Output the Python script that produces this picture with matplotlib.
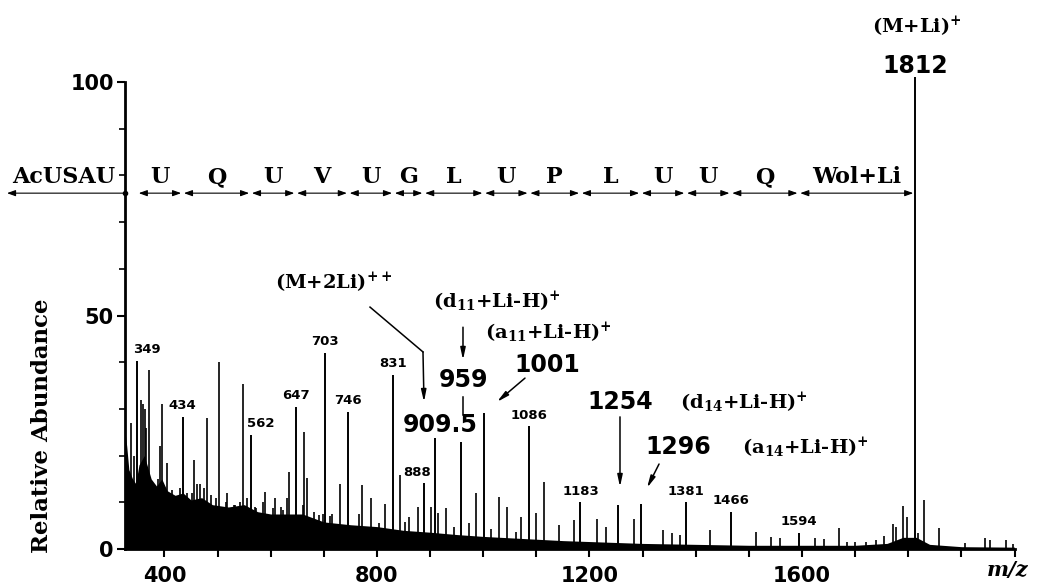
import matplotlib.pyplot as plt
from matplotlib.ticker import FixedLocator, MultipleLocator

plt.rcParams['mathtext.fontset'] = 'custom'
plt.rcParams['mathtext.rm'] = 'DejaVu Serif:bold'
plt.rcParams['mathtext.it'] = 'DejaVu Serif:bold:italic'
plt.rcParams['mathtext.bf'] = 'DejaVu Serif:bold'

# peaks labelled with small numbers (m/z, relative abundance)
label_mz = [349, 434, 562, 647, 703, 746, 831, 888, 1086, 1183, 1381, 1466, 1594]
label_int = [40.3, 28.3, 24.4, 30.4, 42.0, 29.4, 37.3, 14.1, 26.3, 10.0, 10.0, 7.9, 3.4]

# peaks with the big annotations
big_mz = [909.5, 959, 1001, 1254, 1296, 1812]
big_int = [23.8, 22.9, 29.1, 9.4, 9.6, 101.0]

# unlabelled peaks
peak_mz = [337, 342, 356, 359.5, 363, 366, 370.5, 387, 392, 396, 405, 414, 420, 429,
           442, 452, 455, 462, 466, 474, 480, 488, 497, 503, 516, 518, 531, 532.5, 542,
           547, 556, 570, 572, 586, 590, 605, 608, 619, 623, 630, 634, 660, 663, 669,
           681, 691, 698, 711, 716, 731, 767, 772, 789, 804.5, 815, 844, 852, 860, 877,
           900.8, 914.5, 930, 945, 974, 987, 1015, 1029, 1045, 1061, 1070.6, 1100,
           1114.5, 1142, 1171, 1214, 1230.5, 1284, 1339, 1355, 1370, 1427, 1513, 1541,
           1559, 1625, 1641, 1670, 1684, 1700, 1720, 1740, 1755, 1771, 1777, 1790,
           1797.5, 1819, 1830, 1857, 1906, 1945, 1953, 1984, 1998]
peak_int = [27, 20, 32, 31, 30, 26, 38.3, 15, 22, 31, 18.5, 12.6, 10.5, 13,
            12, 12, 19, 14, 14, 13, 28, 11.6, 11, 40, 10, 12, 9.5, 9.4, 10,
            35.3, 11, 9, 8.8, 10, 12.2, 8.8, 10.9, 9, 8.4, 11, 16.5, 9.5, 25, 15.2,
            8, 7.3, 7.5, 7, 7.5, 14, 7.6, 13.7, 11, 5.5, 9.7, 15.8, 5.8, 6.8, 9,
            9, 7.7, 8.8, 4.7, 5.6, 12, 4.3, 11.1, 9, 3.6, 6.9, 7.7,
            14.3, 5.1, 6.2, 6.4, 4.7, 6.4, 4, 3.4, 3, 4, 3.6, 2.6,
            2.4, 2.4, 2.1, 4.5, 1.5, 1.5, 1.4, 2, 2.8, 5.4, 4.7, 9.2,
            6.9, 3.5, 10.5, 4.5, 1.3, 2.4, 2, 2, 1]

# the dense "grass" under the peaks
floor_mz = [326, 329, 333, 340, 346, 352, 362, 375, 385, 395, 405, 420, 435, 450, 470,
            490, 520, 550, 575, 600, 640, 660, 700, 750, 800, 850, 900, 950, 1000,
            1050, 1100, 1150, 1200, 1300, 1400, 1500, 1600, 1700, 1760, 1790, 1815,
            1840, 1900, 2000]
floor_int = [25, 22, 17, 15, 14, 18, 20, 15, 13.5, 15, 12.5, 11.5, 12, 10.5, 11,
             9.5, 9, 9.5, 8, 7.5, 7.5, 7.5, 5.8, 5.2, 4.8, 4.0, 3.6, 3.1, 2.7,
             2.4, 2.1, 1.8, 1.6, 1.2, 1.0, 0.8, 0.8, 0.8, 1.2, 2.5, 2.5,
             1.0, 0.5, 0.4]

# sequence along the top
seq_names = ['AcUSAU', 'U', 'Q', 'U', 'V', 'U', 'G', 'L', 'U', 'P', 'L', 'U', 'U', 'Q', 'Wol+Li']
seq_bounds = [349, 434, 562, 647, 746, 831, 888, 1001, 1086, 1183, 1296, 1381, 1466, 1594, 1812]

serif = 'DejaVu Serif'
wide = 'DejaVu Sans'

fig = plt.figure(figsize=(10.38, 5.87), dpi=100)
ax = fig.add_axes([0.1204, 0.0647, 0.8570, 0.7956])
xmin, xmax = 325.7, 2000
ax.set_xlim(xmin, xmax)
ax.set_ylim(0, 100)

# spectrum
ax.fill_between(floor_mz, floor_int, 0, color='black', lw=0)
ax.vlines(peak_mz, 0, peak_int, color='black', lw=1.2)
ax.vlines(label_mz, 0, label_int, color='black', lw=1.4)
ax.vlines(big_mz, 0, big_int, color='black', lw=1.4, clip_on=False)

label_dx = {349: 17, 562: 19, 888: -12}
for m, h in zip(label_mz, label_int):
    ax.text(m + label_dx.get(m, 0), h + 1.0, str(m), ha='center', va='bottom',
            fontsize=9.5, fontweight='bold', family=wide)

# axes style
for s in ['top', 'right']:
    ax.spines[s].set_visible(False)
ax.spines['left'].set_linewidth(2)
ax.spines['bottom'].set_linewidth(2)
ax.yaxis.set_major_locator(FixedLocator([0, 50, 100]))
ax.yaxis.set_minor_locator(MultipleLocator(10))
ax.xaxis.set_major_locator(FixedLocator([400, 800, 1200, 1600]))
ax.xaxis.set_minor_locator(MultipleLocator(100))
ax.tick_params(axis='y', which='major', direction='out', length=6, width=1.5, pad=2,
               labelsize=15)
ax.tick_params(axis='y', which='minor', direction='out', length=4, width=1.2)
ax.tick_params(axis='x', which='both', direction='out', length=6, width=1.5, pad=6,
               labelsize=15)
for lab in ax.get_xticklabels() + ax.get_yticklabels():
    lab.set_fontweight('bold')
    lab.set_family(wide)

ax.text(169.5, 26.3, 'Relative Abundance', rotation=90, ha='center', va='center',
        fontsize=16.5, fontweight='bold', family=serif)
ax.text(1987.8, -4.5, 'm/z', ha='center', va='center', fontsize=15,
        fontweight='bold', fontstyle='italic', family=serif, clip_on=False)

# sequence row
y_arrow = 76.2
arrow_kw = dict(arrowstyle='<|-|>,head_length=0.5,head_width=0.18', lw=0.8,
                color='black', shrinkA=1, shrinkB=1, mutation_scale=10)
ax.annotate('', xy=(xmin, y_arrow), xytext=(103.6, y_arrow),
            arrowprops=dict(arrowstyle='<|-,head_length=0.5,head_width=0.18', lw=0.8,
                            color='black', shrinkA=0, shrinkB=0, mutation_scale=10),
            annotation_clip=False)
ax.plot([xmin], [y_arrow], 'o', color='black', ms=3, clip_on=False)
ax.text(210.9, 77.3, seq_names[0], ha='center', va='bottom', fontsize=16,
        fontweight='bold', family=serif)
for i in range(1, len(seq_names)):
    a, b = seq_bounds[i - 1], seq_bounds[i]
    ax.annotate('', xy=(b, y_arrow), xytext=(a, y_arrow), arrowprops=arrow_kw,
                annotation_clip=False)
    ax.text((a + b) / 2, 77.3, seq_names[i], ha='center', va='bottom', fontsize=16,
            fontweight='bold', family=serif)

# annotations
head = dict(arrowstyle='-|>,head_length=0.7,head_width=0.15', lw=1.1, color='black',
            shrinkA=0, shrinkB=0, mutation_scale=10)
ann_kw = dict(fontsize=14, fontweight='bold', family=serif, va='center')
big_kw = dict(fontsize=17, fontweight='bold', family=wide, va='center', ha='center')

ax.text(1731.8, 111.8, r'(M+Li)$^{+}$', ha='left', clip_on=False, **ann_kw)
ax.text(1813.7, 103.4, '1812', clip_on=False, **big_kw)

ax.text(608, 57.0, r'(M+2Li)$^{++}$', ha='left', **ann_kw)
ax.plot([786.9, 886.6], [51.8, 42.2], color='black', lw=1.1)
ax.annotate('', xy=(888.5, 31.5), xytext=(886.6, 42.2), arrowprops=head)

ax.text(905.5, 52.9, r'(d$_{11}$+Li-H)$^{+}$', ha='left', **ann_kw)
ax.annotate('', xy=(961.9, 40.5), xytext=(961.9, 47.5), arrowprops=head)
ax.text(962, 36.2, '959', **big_kw)
ax.plot([962, 962], [32.5, 28.7], color='black', lw=1.1)
ax.text(919.6, 26.6, '909.5', **big_kw)

ax.text(1003.3, 46.3, r'(a$_{11}$+Li-H)$^{+}$', ha='left', **ann_kw)
ax.text(1121, 39.4, '1001', **big_kw)
ax.annotate('', xy=(1025.9, 31.5), xytext=(1078.6, 36.6), arrowprops=head)

ax.text(1257.4, 31.5, '1254', **big_kw)
ax.text(1370.4, 31.3, r'(d$_{14}$+Li-H)$^{+}$', ha='left', **ann_kw)
ax.annotate('', xy=(1257.4, 13.3), xytext=(1257.4, 28.3), arrowprops=head)

ax.text(1366.6, 21.8, '1296', **big_kw)
ax.text(1487.1, 21.6, r'(a$_{14}$+Li-H)$^{+}$', ha='left', **ann_kw)
ax.annotate('', xy=(1308.3, 13.1), xytext=(1330.9, 18.2), arrowprops=head)

fig.savefig('out.png', dpi=100)
